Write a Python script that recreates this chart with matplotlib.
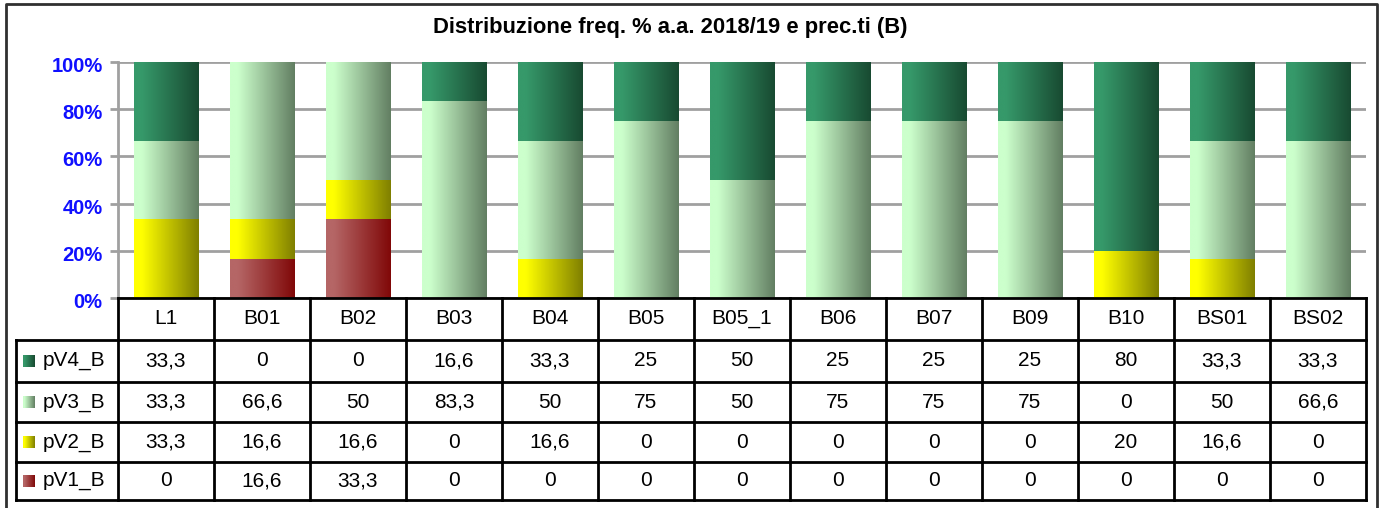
import numpy as np
import matplotlib.pyplot as plt
from matplotlib.colors import LinearSegmentedColormap
from matplotlib.transforms import ScaledTranslation

plt.rcParams['font.family'] = ['Liberation Sans', 'DejaVu Sans']

# data
categories = ['L1', 'B01', 'B02', 'B03', 'B04', 'B05', 'B05_1', 'B06', 'B07', 'B09', 'B10', 'BS01', 'BS02']
pV1_B = [0, 16.6, 33.3, 0, 0, 0, 0, 0, 0, 0, 0, 0, 0]
pV2_B = [33.3, 16.6, 16.6, 0, 16.6, 0, 0, 0, 0, 0, 20, 16.6, 0]
pV3_B = [33.3, 66.6, 50, 83.3, 50, 75, 50, 75, 75, 75, 0, 50, 66.6]
pV4_B = [33.3, 0, 0, 16.6, 33.3, 25, 50, 25, 25, 25, 80, 33.3, 33.3]
series_names = ['pV1_B', 'pV2_B', 'pV3_B', 'pV4_B']
series_vals = [pV1_B, pV2_B, pV3_B, pV4_B]
yticks = [0, 20, 40, 60, 80, 100]
title = 'Distribuzione freq. % a.a. 2018/19 e prec.ti (B)'

# gradient (light left -> dark right) per series
grad = {
    'pV1_B': ('#b56666', '#800808'),
    'pV2_B': ('#ffff00', '#7f7f00'),
    'pV3_B': ('#ccffcc', '#627e62'),
    'pV4_B': ('#36996a', '#184a31'),
}
cmaps = {k: LinearSegmentedColormap.from_list(k, [(0, a), (0.12, a), (1, b)]) for k, (a, b) in grad.items()}
ramp = np.linspace(0, 1, 256).reshape(1, -1)

W, H = 1381, 508
fig = plt.figure(figsize=(W / 100, H / 100), dpi=100)

# pixel layout
px_l, px_r, px_top, px_zero = 118, 1366, 62, 298
ax = fig.add_axes([px_l / W, 1 - px_zero / H, (px_r - px_l) / W, (px_zero - px_top) / H])

vals = np.array(series_vals, dtype=float)
pct = vals / vals.sum(axis=0) * 100
x = np.arange(len(categories))
bottom = np.zeros(len(categories))
for name, p in zip(series_names, pct):
    bars = ax.bar(x, p, bottom=bottom, width=0.667, color='none', edgecolor='none')
    for b in bars:
        if b.get_height() <= 0:
            continue
        x0, y0 = b.get_x(), b.get_y()
        ax.imshow(ramp, cmap=cmaps[name], aspect='auto', zorder=2,
                  extent=[x0, x0 + b.get_width(), y0, y0 + b.get_height()])
    bottom += p

ax.set_xlim(-0.5, len(categories) - 0.5)
ax.set_ylim(0, 100)
ax.set_yticks(yticks)
ax.set_yticklabels([f'{t}%' for t in yticks])
ax.tick_params(axis='y', colors='#a0a0a0', length=6, width=2, pad=5, labelsize=14.5,
               labelcolor='#1010ff')
shift = ScaledTranslation(0, -2.5 / 100, fig.dpi_scale_trans)
for lab in ax.get_yticklabels():
    lab.set_fontweight('bold')
    lab.set_transform(lab.get_transform() + shift)
ax.set_xticks([])
ax.grid(axis='y', color='#a0a0a0', lw=2)
ax.set_axisbelow(True)
for s in ['top', 'right', 'bottom']:
    ax.spines[s].set_visible(False)
ax.spines['left'].set_color('#a0a0a0')
ax.spines['left'].set_linewidth(2)

# overlay in pixel coords for title, table and frame
ov = fig.add_axes([0, 0, 1, 1], zorder=5)
ov.set_xlim(0, W)
ov.set_ylim(H, 0)
ov.axis('off')
ov.patch.set_alpha(0)

# outer frame
ov.plot([6, 6, 1377, 1377], [H + 2, 4, 4, H + 2], color='#303030', lw=2)
ov.text(670, 27, title, ha='center', va='center', fontsize=15.8, fontweight='bold')

cw = (px_r - px_l) / len(categories)
row_y = [298, 340, 382, 422, 462, 500]
lab_l = 16
lk = dict(color='black', lw=2, solid_capstyle='projecting')
# horizontal lines
ov.plot([px_l, px_r], [row_y[0]] * 2, **lk)
for y in row_y[1:]:
    ov.plot([lab_l, px_r], [y, y], **lk)
# vertical lines
ov.plot([lab_l, lab_l], [row_y[1], row_y[-1]], **lk)
for i in range(len(categories) + 1):
    ov.plot([px_l + i * cw] * 2, [row_y[0], row_y[-1]], **lk)

fs = 15
for i, c in enumerate(categories):
    ov.text(px_l + (i + 0.5) * cw, (row_y[0] + row_y[1]) / 2, c, ha='center', va='center', fontsize=fs)

table_order = ['pV4_B', 'pV3_B', 'pV2_B', 'pV1_B']
for r, name in enumerate(table_order):
    yc = (row_y[r + 1] + row_y[r + 2]) / 2
    ov.imshow(ramp, cmap=cmaps[name], aspect='auto', extent=[23, 35, yc + 6, yc - 6], zorder=3)
    ov.text(43, yc, name, ha='left', va='center', fontsize=fs)
    v = series_vals[series_names.index(name)]
    for i, val in enumerate(v):
        s = f'{val:g}'.replace('.', ',')
        ov.text(px_l + (i + 0.5) * cw, yc, s, ha='center', va='center', fontsize=fs)
ov.set_xlim(0, W)
ov.set_ylim(H, 0)

fig.savefig('out.png', dpi=100)
